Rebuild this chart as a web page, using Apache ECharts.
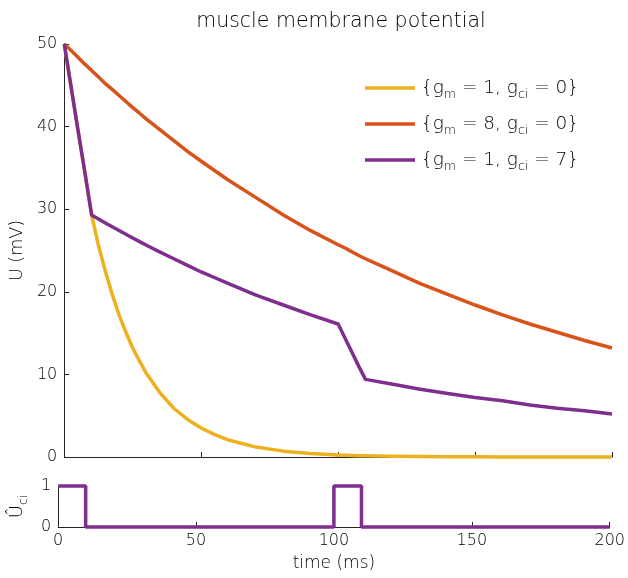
<!DOCTYPE html>
<html>
<head>
<meta charset="utf-8">
<script src="https://cdn.jsdelivr.net/npm/echarts@6/dist/echarts.min.js"></script>
<style>
  html, body { margin: 0; padding: 0; background: #fff; }
  #chart { width: 628px; height: 578px; }
</style>
</head>
<body>
<div id="chart"></div>
<script>
const FONT = 'DejaVu Sans';
const WEIGHT = 200;
const AXIS_COLOR = '#262626';
const TEXT_COLOR = '#000';

// time samples (ms)
const TIME = [0, 2.5, 5, 7.5, 10, 12.5, 15, 17.5, 20, 22.5, 25, 27.5, 30, 35, 40, 45, 50, 55, 60, 70, 80, 90,
  100, 102.5, 105, 107.5, 110, 120, 130, 140, 150, 160, 170, 180, 190, 200];

// U (mV)
const U_GM1_GCI0 = [50, 44.8, 39.6, 34.5, 29.3, 25.6, 22.5, 19.7, 17.2, 15.1, 13.2, 11.6, 10.1, 7.75, 5.9, 4.55, 3.5, 2.7, 2.05, 1.2, 0.71, 0.41,
  0.24, 0.21, 0.18, 0.16, 0.14, 0.08, 0.05, 0.03, 0.02, 0.01, 0.01, 0, 0, 0];
const U_GM8_GCI0 = [50, 49.2, 48.4, 47.56, 46.8, 46.0, 45.2, 44.5, 43.76, 43.04, 42.3, 41.62, 40.9, 39.6, 38.3, 37.0, 35.8, 34.65, 33.5, 31.4, 29.3, 27.4,
  25.7, 25.3, 24.85, 24.4, 24.0, 22.5, 21.0, 19.7, 18.4, 17.2, 16.1, 15.1, 14.1, 13.2];
const U_GM1_GCI7 = [50, 44.8, 39.6, 34.5, 29.3, 28.82, 28.34, 27.87, 27.41, 26.96, 26.51, 26.07, 25.64, 24.8, 24.0, 23.2, 22.4, 21.7, 21.0, 19.6, 18.4, 17.2,
  16.1, 14.4, 12.7, 11.0, 9.4, 8.8, 8.2, 7.7, 7.2, 6.8, 6.3, 5.9, 5.6, 5.2];

// control input pulses
const PULSE_T = [0, 10, 10, 100, 100, 110, 110, 200];
const PULSE_U = [1, 1, 0, 0, 1, 1, 0, 0];

const SERIES_NAMES = ['gm1gci0', 'gm8gci0', 'gm1gci7'];
const LEGEND_LABELS = {
  gm1gci0: '{g{s|m} = 1, g{s|ci} = 0}',
  gm8gci0: '{g{s|m} = 8, g{s|ci} = 0}',
  gm1gci7: '{g{s|m} = 1, g{s|ci} = 7}'
};
const COLORS = ['#EDB120', '#D95319', '#7E2F8E'];

function zip(xs, ys) {
  return xs.map((x, i) => [x, ys[i]]);
}

let chart = echarts.init(document.getElementById('chart'));

let textBase = { fontFamily: FONT, fontWeight: WEIGHT, color: TEXT_COLOR };

let axisCommon = {
  type: 'value',
  axisLine: { show: true, lineStyle: { color: AXIS_COLOR, width: 1 } },
  axisTick: { show: true, inside: true, length: 5, lineStyle: { color: AXIS_COLOR } },
  splitLine: { show: false },
  axisLabel: Object.assign({ fontSize: 16 }, textBase)
};

let subRich = {
  b: Object.assign({ fontSize: 18, lineHeight: 26, verticalAlign: 'middle' }, textBase),
  s: Object.assign({ fontSize: 12.5, lineHeight: 26, verticalAlign: 'bottom' }, textBase)
};

let option = {
  animation: false,
  backgroundColor: '#fff',
  title: {
    text: 'muscle membrane potential',
    left: 336,
    textAlign: 'center',
    top: 6,
    textStyle: Object.assign({ fontSize: 20.5 }, textBase)
  },
  legend: {
    data: SERIES_NAMES,
    orient: 'vertical',
    left: 360,
    top: 70,
    icon: 'rect',
    itemWidth: 50,
    itemHeight: 3.5,
    itemGap: 10,
    formatter: name => LEGEND_LABELS[name],
    textStyle: Object.assign({ fontSize: 18.5, lineHeight: 26, padding: [0, 0, 0, 1], rich: subRich }, textBase)
  },
  grid: [
    { left: 57, right: 16, top: 44, height: 413 },
    { left: 57, right: 16, top: 486, height: 41 }
  ],
  xAxis: [
    Object.assign({}, axisCommon, {
      gridIndex: 0, min: 0, max: 200, interval: 50,
      axisLabel: { show: false }
    }),
    Object.assign({}, axisCommon, {
      gridIndex: 1, min: 0, max: 200, interval: 50,
      axisLabel: Object.assign({}, axisCommon.axisLabel, { margin: 6 }),
      name: 'time (ms)',
      nameLocation: 'middle',
      nameGap: 28,
      nameTextStyle: Object.assign({ fontSize: 17 }, textBase)
    })
  ],
  yAxis: [
    Object.assign({}, axisCommon, {
      gridIndex: 0, min: 0, max: 50, interval: 10,
      axisLabel: Object.assign({}, axisCommon.axisLabel, { margin: 7 }),
      name: 'U (mV)',
      nameLocation: 'middle',
      nameGap: 26,
      nameTextStyle: Object.assign({ fontSize: 17.5 }, textBase)
    }),
    Object.assign({}, axisCommon, {
      gridIndex: 1, min: 0, max: 1, interval: 1,
      axisLabel: Object.assign({}, axisCommon.axisLabel, { margin: 7 }),
      name: '{b|\u00DB}{s|ci}',
      nameLocation: 'middle',
      nameGap: 25,
      nameTextStyle: { rich: subRich }
    })
  ],
  series: [
    [U_GM1_GCI0, 0],
    [U_GM8_GCI0, 1],
    [U_GM1_GCI7, 2]
  ].map(([values, i]) => ({
    name: SERIES_NAMES[i],
    type: 'line',
    xAxisIndex: 0,
    yAxisIndex: 0,
    data: zip(TIME, values),
    showSymbol: false,
    symbol: 'none',
    clip: false,
    color: COLORS[i],
    lineStyle: { width: 3.5, color: COLORS[i], join: 'round' }
  })).concat([{
    name: 'pulse',
    type: 'line',
    xAxisIndex: 1,
    yAxisIndex: 1,
    data: zip(PULSE_T, PULSE_U),
    showSymbol: false,
    symbol: 'none',
    clip: false,
    color: COLORS[2],
    lineStyle: { width: 3.5, color: COLORS[2] }
  }])
};

chart.setOption(option);
</script>
</body>
</html>
